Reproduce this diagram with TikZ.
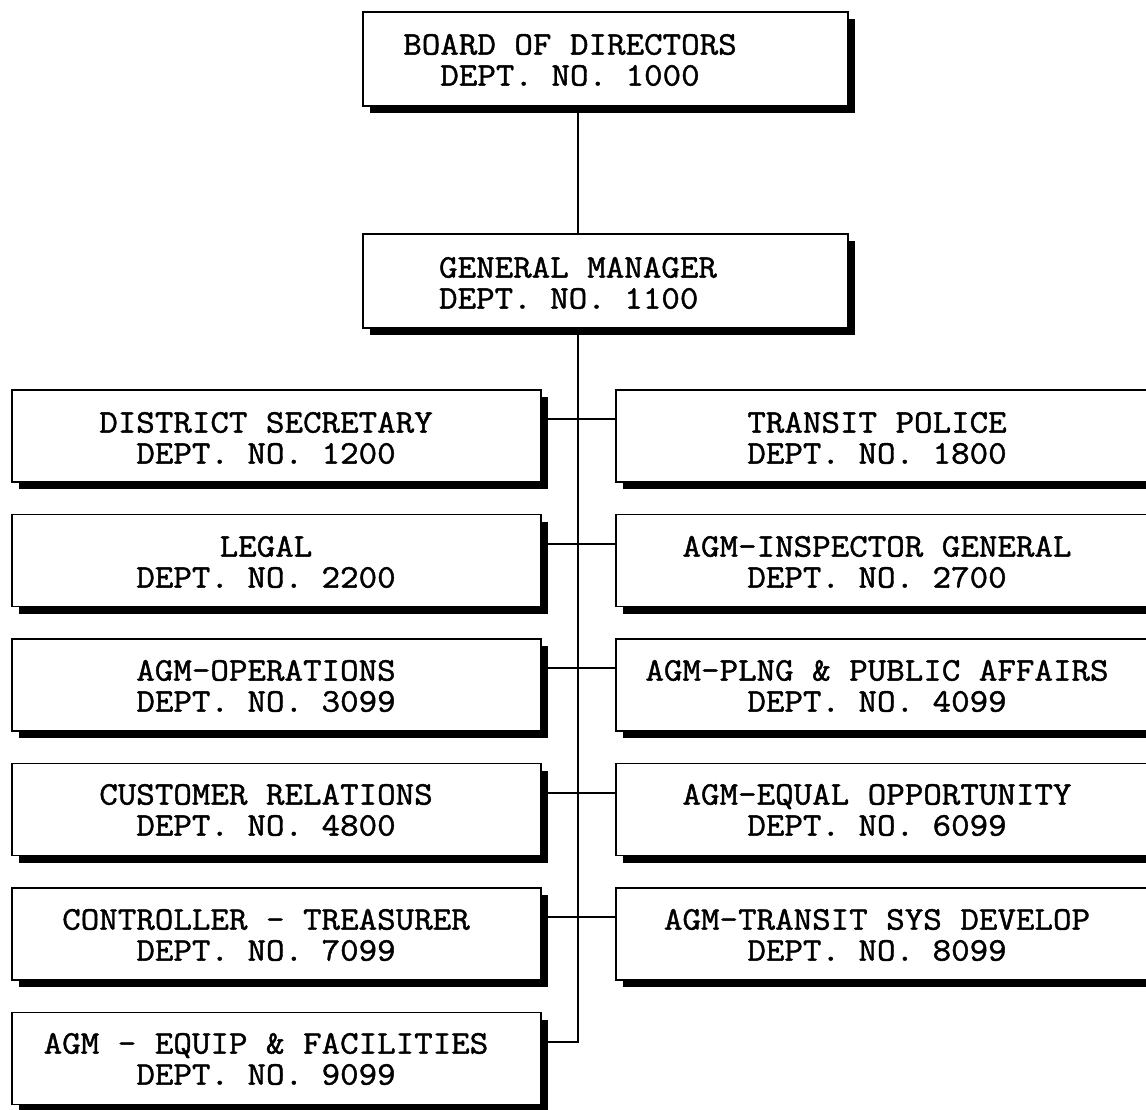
\documentclass[tikz,border=0pt]{standalone}
\usepackage{fontspec}
\newfontfamily\typew[FakeStretch=1.09,FakeBold=1.3]{Latin Modern Mono}
\usetikzlibrary{shadows}
\begin{document}
\begin{tikzpicture}[x=1pt,y=-1pt,
  box/.style={draw, line width=1.7pt, fill=white, rectangle, inner sep=0pt,
    drop shadow={shadow xshift=7pt, shadow yshift=-7pt, opacity=1, fill=black}},
  topbox/.style={box, minimum width=485pt, minimum height=94pt},
  lbox/.style={box, minimum width=529pt, minimum height=92pt},
  rbox/.style={box, minimum width=564pt, minimum height=92pt},
  lbl/.style={font=\typew\fontsize{33}{31}\selectfont, align=center, inner sep=0pt},
  conn/.style={line width=1.7pt}]
\clip (0,0) rectangle (1146,1110);
\fill[white] (0,0) rectangle (1146,1110);

% top boxes
\node[topbox] (bod) at (605.5,59) {};
\node[lbl] (bodt) at (570,60) {BOARD OF DIRECTORS\\DEPT. NO. 1000};
\node[topbox] (gm) at (605.5,281) {};
\node[lbl, align=left] (gmt) at (578,283) {GENERAL MANAGER\\DEPT. NO. 1100};

% left column
\node[lbox] (l1) at (276.5,436) {};
\node[lbl] (l1t) at (266,438) {DISTRICT SECRETARY\\DEPT. NO. 1200};
\node[lbox] (l2) at (276.5,560.5) {};
\node[lbl] (l2t) at (266,562) {LEGAL\\DEPT. NO. 2200};
\node[lbox] (l3) at (276.5,685) {};
\node[lbl] (l3t) at (266,686) {AGM-OPERATIONS\\DEPT. NO. 3099};
\node[lbox] (l4) at (276.5,809.5) {};
\node[lbl] (l4t) at (266,810) {CUSTOMER RELATIONS\\DEPT. NO. 4800};
\node[lbox] (l5) at (276.5,934) {};
\node[lbl] (l5t) at (266,935) {CONTROLLER - TREASURER\\DEPT. NO. 7099};
\node[lbox] (l6) at (276.5,1058.5) {};
\node[lbl] (l6t) at (266,1059) {AGM - EQUIP \& FACILITIES\\DEPT. NO. 9099};

% right column
\node[rbox] (r1) at (898,436) {};
\node[lbl] (r1t) at (877,438) {TRANSIT POLICE\\DEPT. NO. 1800};
\node[rbox] (r2) at (898,560.5) {};
\node[lbl] (r2t) at (877,562) {AGM-INSPECTOR GENERAL\\DEPT. NO. 2700};
\node[rbox] (r3) at (898,685) {};
\node[lbl] (r3t) at (877,686) {AGM-PLNG \& PUBLIC AFFAIRS\\DEPT. NO. 4099};
\node[rbox] (r4) at (898,809.5) {};
\node[lbl] (r4t) at (877,810) {AGM-EQUAL OPPORTUNITY\\DEPT. NO. 6099};
\node[rbox] (r5) at (898,934) {};
\node[lbl] (r5t) at (877,935) {AGM-TRANSIT SYS DEVELOP\\DEPT. NO. 8099};

% connectors
\draw[conn] ([xshift=-27.5pt]bod.south) -- ([xshift=-27.5pt]gm.north);
\draw[conn] ([xshift=-27.5pt]gm.south) |- ([yshift=-30pt]l6.north east);
\foreach \i in {1,...,5}{
  \draw[conn] ([yshift=-30pt]l\i.north east) -- ([yshift=-30pt]r\i.north west);
}
\end{tikzpicture}
\end{document}
